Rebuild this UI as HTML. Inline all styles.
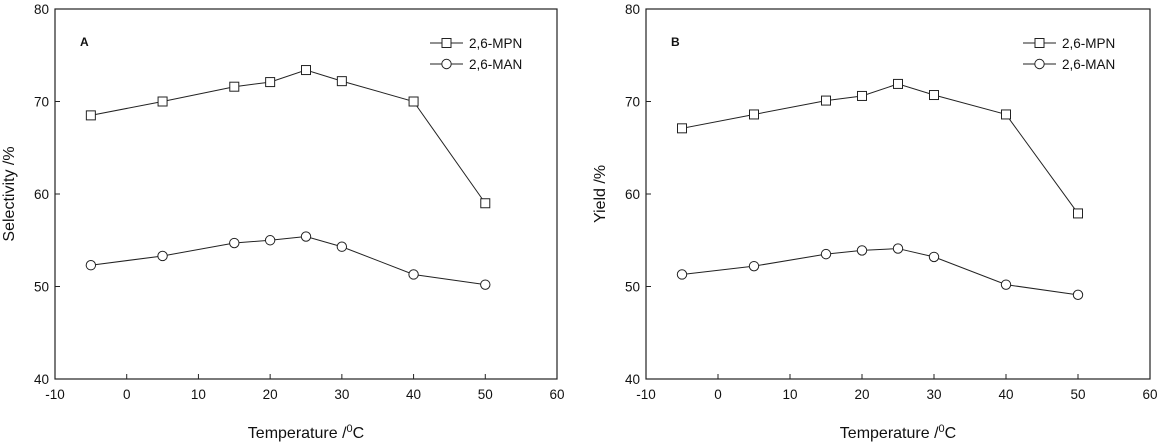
<!DOCTYPE html>
<html><head><meta charset="utf-8"><style>
body{margin:0;background:#fff;}
svg text{font-family:"Liberation Sans",Arial,sans-serif;fill:#111;}
</style></head><body>
<svg id="c" width="1157" height="443" xmlns="http://www.w3.org/2000/svg"></svg>
<script>
const temps=[-5,5,15,20,25,30,40,50];
const selMPN=[68.5,70,71.6,72.1,73.4,72.2,70,59];
const selMAN=[52.3,53.3,54.7,55.0,55.4,54.3,51.3,50.2];
const yldMPN=[67.1,68.6,70.1,70.6,71.9,70.7,68.6,57.9];
const yldMAN=[51.3,52.2,53.5,53.9,54.1,53.2,50.2,49.1];
const xTicks=[-10,0,10,20,30,40,50,60];
const yTicks=[40,50,60,70,80];
const svg=document.getElementById('c');
const NS='http://www.w3.org/2000/svg';
function mk(tag,attrs,parent){const e=document.createElementNS(NS,tag);for(const k in attrs)e.setAttribute(k,attrs[k]);(parent||svg).appendChild(e);return e;}
function panel(id,L,R,letter,ytitle,mpn,man){
  const T=9,B=379;
  const g=mk('g',{});
  
  
  const sx=v=>L+(v+10)/70*(R-L);
  const sy=v=>B-(v-40)/40*(B-T);
  const f=mk('rect',{x:L,y:T,width:R-L,height:B-T,fill:'none',stroke:'#222','stroke-width':1.2},g);
  
  
  xTicks.forEach(t=>{
    mk('line',{x1:sx(t),x2:sx(t),y1:B,y2:B-5,stroke:'#222'},g);
    const tx=mk('text',{x:sx(t),y:B+20,'font-size':13.5,'text-anchor':'middle'},g);tx.textContent=t;
    
    
  });
  yTicks.forEach(t=>{
    mk('line',{x1:L,x2:L+5,y1:sy(t),y2:sy(t),stroke:'#222'},g);
    const tx=mk('text',{x:L-6,y:sy(t)+5,'font-size':13.5,'text-anchor':'end'},g);tx.textContent=t;
    
    
  });
  const xt=mk('text',{x:(L+R)/2,y:438,'font-size':16,'text-anchor':'middle'},g);
  xt.innerHTML='Temperature /<tspan dy="-6" font-size="11">0</tspan><tspan dy="6">C</tspan>';
  
  
  const yt=mk('text',{x:0,y:0,'font-size':16,'text-anchor':'middle',transform:`translate(${L-41},194) rotate(-90)`},g);
  yt.textContent=ytitle;
  
  
  const lt=mk('text',{x:L+25,y:46,'font-size':12,'font-weight':'bold'},g);lt.textContent=letter;
  
  
  function series(vals,shape,name){
    const pts=temps.map((t,i)=>sx(t)+','+sy(vals[i])).join(' ');
    const pl=mk('polyline',{points:pts,fill:'none',stroke:'#222','stroke-width':1},g);
    
    
    temps.forEach((t,i)=>{
      let m;
      if(shape==='sq')m=mk('rect',{x:sx(t)-4.5,y:sy(vals[i])-4.5,width:9,height:9,fill:'#fff',stroke:'#222'},g);
      else m=mk('circle',{cx:sx(t),cy:sy(vals[i]),r:4.7,fill:'#fff',stroke:'#222'},g);
      
      
    });
  }
  series(mpn,'sq','mpn');
  series(man,'ci','man');
  const lx=R-127;
  [['2,6-MPN','sq',43],['2,6-MAN','ci',64]].forEach(([lab,sh,y])=>{
    const lg=mk('g',{},g);
    
    
    mk('line',{x1:lx,x2:lx+33,y1:y,y2:y,stroke:'#222'},lg);
    if(sh==='sq')mk('rect',{x:lx+12,y:y-4.5,width:9,height:9,fill:'#fff',stroke:'#222'},lg);
    else mk('circle',{cx:lx+16.5,cy:y,r:4.7,fill:'#fff',stroke:'#222'},lg);
    const t=mk('text',{x:lx+39,y:y+5,'font-size':13.5},lg);t.textContent=lab;
  });
}
panel('panel-a-selectivity',55,557,'A','Selectivity /%',selMPN,selMAN);
panel('panel-b-yield',646,1150,'B','Yield /%',yldMPN,yldMAN);
</script>
</body></html>
